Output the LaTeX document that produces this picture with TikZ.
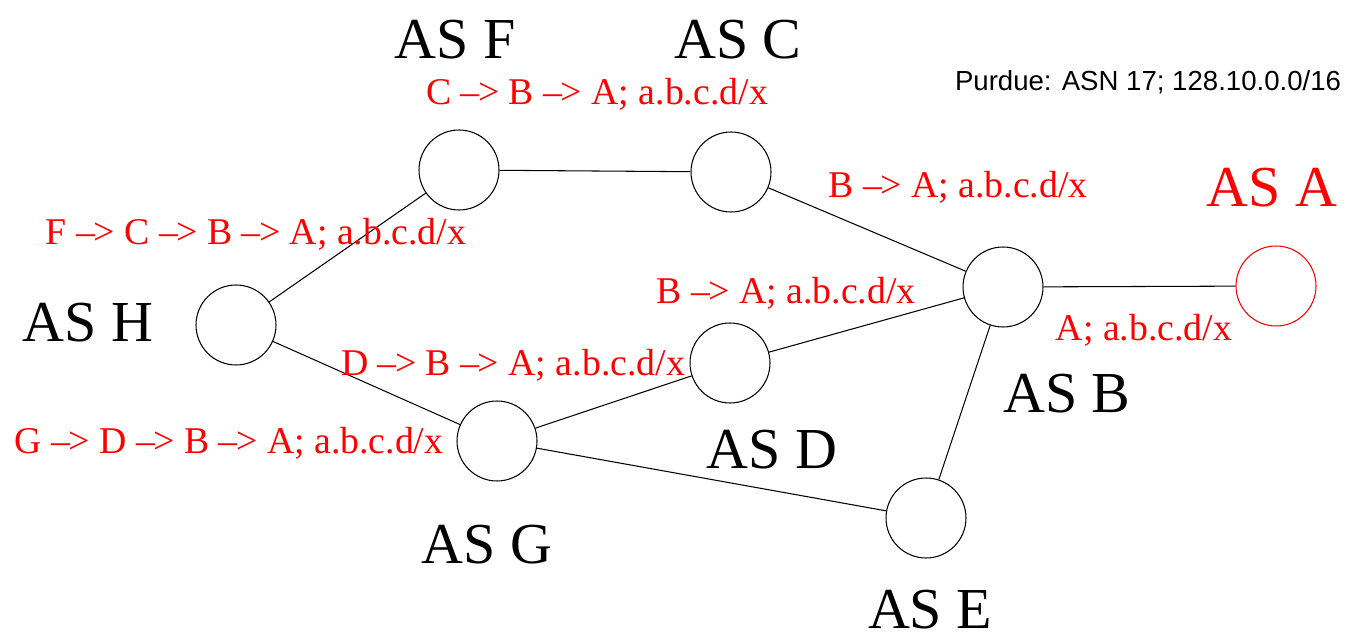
\documentclass[tikz,border=0pt]{standalone}
\usepackage{fontspec}
\setmainfont{Liberation Serif}
\newfontfamily\helv{Liberation Sans}
\newcommand{\ar}{--\kern-0.04em>}
\begin{document}
\begin{tikzpicture}[x=0.02cm,y=-0.02cm,
  asnode/.style={circle,draw=black,line width=0.6pt,minimum size=1.6cm,inner sep=0pt},
  aslabel/.style={anchor=base,inner sep=0pt,font=\fontsize{33}{40}\selectfont},
  route/.style={anchor=base,inner sep=0pt,text=red,font=\fontsize{21.5}{26}\selectfont},
  link/.style={line width=0.6pt,draw=black}]
\useasboundingbox (0,0) rectangle (1348,641);
\node[asnode] (H) at (236,325) {};
\node[asnode] (F) at (459,170) {};
\node[asnode] (C) at (731,172) {};
\node[asnode] (B) at (1003,287) {};
\node[asnode,draw=red] (A) at (1276,286) {};
\node[asnode] (D) at (730,363) {};
\node[asnode] (G) at (497,441) {};
\node[asnode] (E) at (926,518) {};
\draw[link] (H) -- (F);
\draw[link] (H) -- (G);
\draw[link] (F) -- (C);
\draw[link] (C) -- (B);
\draw[link] (B) -- (A);
\draw[link] (D) -- (B);
\draw[link] (G) -- (D);
\draw[link] (G) -- (E);
\draw[link] (E) -- (B);
\node[aslabel] (lF) at (455,59) {AS F};
\node[aslabel] (lC) at (738,59) {AS C};
\node[aslabel,text=red] (lA) at (1272,207) {AS A};
\node[aslabel] (lH) at (88,342) {AS H};
\node[aslabel] (lB) at (1067,413) {AS B};
\node[aslabel] (lD) at (772,468) {AS D};
\node[aslabel] (lG) at (487,563) {AS G};
\node[aslabel] (lE) at (930,628) {AS E};
\node[route] (r1) at (597,105) {C \ar{} B \ar{} A; a.b.c.d/x};
\node[route] (r2) at (958,198) {B \ar{} A; a.b.c.d/x};
\node[route] (r3) at (256,245) {F \ar{} C \ar{} B \ar{} A; a.b.c.d/x};
\node[route] (r4) at (786,304) {B \ar{} A; a.b.c.d/x};
\node[route] (r5) at (1144,341) {A; a.b.c.d/x};
\node[route] (r6) at (513,376) {D \ar{} B \ar{} A; a.b.c.d/x};
\node[route] (r7) at (229,454) {G \ar{} D \ar{} B \ar{} A; a.b.c.d/x};
\node[anchor=base,inner sep=0pt,font=\helv\fontsize{15.7}{19}\selectfont] (p) at (1148,91) {Purdue: ASN 17; 128.10.0.0/16};
\end{tikzpicture}
\end{document}
